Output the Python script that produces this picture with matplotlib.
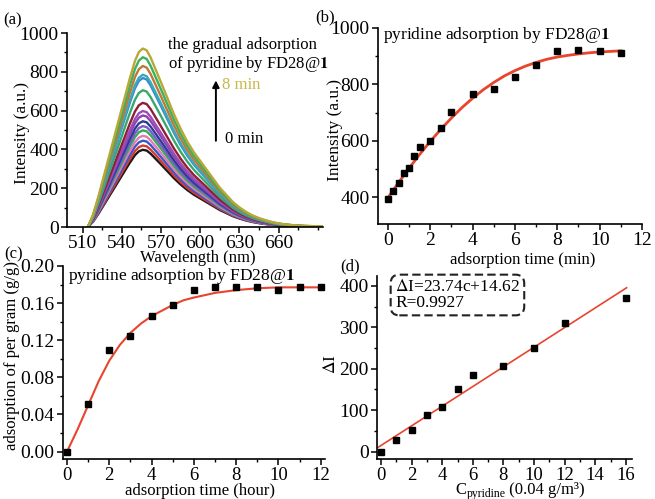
import matplotlib
matplotlib.use('Agg')
import matplotlib.pyplot as plt
from matplotlib.ticker import MultipleLocator

plt.rcParams['font.family'] = ['Liberation Serif', 'DejaVu Serif']
plt.rcParams['mathtext.fontset'] = 'stix'

# ---- data ----
# (a) emission spectra, normalised shape read off the curves + peak heights
wavelength = [514, 518, 522, 526, 530, 534, 538, 542, 546, 550, 553, 556, 559, 562,
              566, 570, 575, 580, 585, 590, 595, 600, 605, 610, 615, 620, 625, 630,
              635, 640, 645, 650, 655, 660, 665, 670, 675, 680, 685, 690, 694]
spec_shape = [0, 0.07, 0.17, 0.28, 0.39, 0.50, 0.61, 0.72, 0.83, 0.93, 0.98, 1.0, 0.99, 0.95,
              0.88, 0.81, 0.72, 0.63, 0.55, 0.48, 0.42, 0.37, 0.32, 0.27, 0.22, 0.18, 0.14, 0.11,
              0.085, 0.065, 0.05, 0.038, 0.028, 0.02, 0.015, 0.011, 0.008, 0.006, 0.005, 0.004, 0.003]
peak_heights = [398, 420, 445, 470, 498, 520, 545, 575, 598, 640, 705, 768, 785, 830, 875, 920]
spec_colors = ['#1a1a1a', '#d63a2e', '#3a55c8', '#e27ab8', '#3aa85a', '#7a5cc8', '#2c3c96',
               '#8a44b0', '#a04cb8', '#8c2038', '#3aa86a', '#3a8ad0', '#3aaab8', '#c07838',
               '#3cb060', '#b8a838']

# (b) intensity vs time (min)
t_min = [0, 0.25, 0.5, 0.75, 1, 1.25, 1.5, 2, 2.5, 3, 4, 5, 6, 7, 8, 9, 10, 11]
intensity = [392, 423, 450, 485, 503, 545, 579, 600, 644, 703, 766, 784, 828, 868, 917, 923, 919, 913]
fit_b_x = [0, 0.5, 1, 1.5, 2, 2.5, 3, 3.5, 4, 4.5, 5, 5.5, 6, 6.5, 7, 7.5, 8, 8.5, 9, 9.5, 10, 10.5, 11]
fit_b_y = [398, 452, 503, 552, 598, 641, 681, 718, 751, 781, 807, 830, 849, 865, 878, 889,
           897, 903, 908, 912, 915, 917, 919]

# (c) adsorption per gram vs time (hour)
t_hour = [0, 1, 2, 3, 4, 5, 6, 7, 8, 9, 10, 11, 12]
per_gram = [0.0, 0.051, 0.109, 0.125, 0.146, 0.158, 0.174, 0.177, 0.177, 0.177, 0.174, 0.177, 0.177]
fit_c_x = [0, 0.5, 1, 1.5, 2, 2.5, 3, 3.5, 4, 4.5, 5, 5.5, 6, 7, 8, 9, 10, 11, 12]
fit_c_y = [0, 0.024, 0.050, 0.076, 0.098, 0.115, 0.128, 0.138, 0.146, 0.152, 0.158, 0.163,
           0.166, 0.171, 0.174, 0.176, 0.177, 0.177, 0.177]

# (d) delta I vs concentration
conc = [0, 1, 2, 3, 4, 5, 6, 8, 10, 12, 16]
delta_i = [0, 27, 53, 88, 108, 150, 184, 206, 250, 311, 372]
slope, intercept = 23.74, 14.62
fit_d_x = [-0.2, 16.05]

W, H = 655, 499
fig = plt.figure(figsize=(W / 100, H / 100), dpi=100)


def px_axes(l, t, r, b):
    return fig.add_axes([l / W, 1 - b / H, (r - l) / W, (b - t) / H])


def style(ax):
    for s in ['top', 'right']:
        ax.spines[s].set_visible(False)
    for s in ['left', 'bottom']:
        ax.spines[s].set_linewidth(1.2)
    ax.tick_params(which='major', direction='out', length=4.5, width=1.1, labelsize=14, pad=1.5)
    ax.tick_params(which='minor', direction='out', length=2.5, width=1.0)


def ftext(x, y, s, **kw):
    return fig.text(x / W, 1 - y / H, s, **kw)


red = '#e8442e'

# ---- (a) ----
ax = px_axes(67, 33, 323, 227)
for pk, c in zip(peak_heights, spec_colors):
    ax.plot(wavelength, [pk * v for v in spec_shape], color=c, lw=1.7)
ax.set_xlim(498, 694)
ax.set_ylim(0, 1000)
ax.xaxis.set_minor_locator(MultipleLocator(15))
ax.yaxis.set_major_locator(MultipleLocator(200))
ax.yaxis.set_minor_locator(MultipleLocator(100))
ax.set_xticks(range(510, 661, 30))
style(ax)
ax.tick_params(axis='x', which='major', pad=1)
ax.annotate('', xy=(612, 770), xytext=(612, 430),
            arrowprops=dict(arrowstyle='-|>', color='black', lw=1.4, mutation_scale=10))
ax.text(617, 730, '8 min', color='#c8b84a', fontsize=12, va='center')
ax.text(619, 455, '0 min', color='black', fontsize=12, va='center')
ftext(168, 45, 'the gradual adsorption', fontsize=12, va='center')
ftext(168, 64, r'of pyridine by FD28@$\mathbf{1}$', fontsize=12, va='center')
ftext(198, 262, 'Wavelength (nm)', fontsize=12, ha='center', va='baseline')
ftext(22, 133, 'Intensity (a.u.)', fontsize=12.5, ha='center', va='center', rotation=90)
ftext(13, 20, '(a)', fontsize=12, ha='center', va='center')

# ---- (b) ----
ax = px_axes(378, 28, 642, 224)
ax.plot(fit_b_x, fit_b_y, color=red, lw=2.0, zorder=2)
ax.plot(t_min, intensity, 's', color='black', ms=3.8, zorder=3)
ax.set_xlim(-0.47, 12)
ax.set_ylim(305, 1000)
ax.xaxis.set_major_locator(MultipleLocator(2))
ax.xaxis.set_minor_locator(MultipleLocator(1))
ax.yaxis.set_minor_locator(MultipleLocator(100))
ax.set_yticks([400, 600, 800, 1000])
style(ax)
ax.tick_params(axis='x', which='major', pad=1)
ftext(383, 35, r'pyridine adsorption by FD28@$\mathbf{1}$', fontsize=12.5, va='center')
ftext(523, 264, 'adsorption time (min)', fontsize=12, ha='center', va='baseline')
ftext(335, 130, 'Intensity (a.u.)', fontsize=12.5, ha='center', va='center', rotation=90)
ftext(325, 17, '(b)', fontsize=12, ha='center', va='center')

# ---- (c) ----
ax = px_axes(63, 266, 325, 459)
ax.plot(fit_c_x, fit_c_y, color=red, lw=1.5, zorder=2)
ax.plot(t_hour, per_gram, 's', color='black', ms=3.8, zorder=3, clip_on=False)
ax.set_xlim(-0.19, 12.2)
ax.set_ylim(-0.008, 0.20)
ax.xaxis.set_major_locator(MultipleLocator(2))
ax.xaxis.set_minor_locator(MultipleLocator(1))
ax.yaxis.set_minor_locator(MultipleLocator(0.02))
ax.set_yticks([0, 0.04, 0.08, 0.12, 0.16, 0.20])
ax.set_yticklabels(['0.00', '0.04', '0.08', '0.12', '0.16', '0.20'])
style(ax)
ax.tick_params(axis='x', which='major', labelsize=13.5, pad=1)
ftext(68, 276, r'pyridine adsorption by FD28@$\mathbf{1}$', fontsize=12.5, va='center')
ftext(200, 495, 'adsorption time (hour)', fontsize=12, ha='center', va='baseline')
ftext(12, 356, 'adsorption of per gram (g/g)', fontsize=12, ha='center', va='center', rotation=90)
ftext(14, 254, '(c)', fontsize=12, ha='center', va='center')

# ---- (d) ----
ax = px_axes(377, 276, 632, 459)
ax.plot(fit_d_x, [slope * x + intercept for x in fit_d_x], color=red, lw=1.2, zorder=2)
ax.plot(conc, delta_i, 's', color='black', ms=3.8, zorder=3)
ax.set_xlim(-0.26, 16.4)
ax.set_ylim(-18, 424)
ax.xaxis.set_major_locator(MultipleLocator(2))
ax.xaxis.set_minor_locator(MultipleLocator(1))
ax.yaxis.set_minor_locator(MultipleLocator(50))
ax.set_yticks([0, 100, 200, 300, 400])
style(ax)
ax.tick_params(axis='x', which='major', labelsize=13.5, pad=1)
ftext(395, 295, '$\\Delta$I=23.74c+14.62\nR=0.9927', fontsize=12.5, va='center', linespacing=1.0,
      bbox=dict(boxstyle='round,pad=0.25,rounding_size=0.5', fc='white', ec='#222222',
                ls=(0, (4, 2)), lw=1.5))
# x label built from pieces: C, small "pyridine" subscript, then the unit
lab_c = ftext(455, 494, 'C', fontsize=12, ha='left', va='baseline')
lab_sub = ax.annotate('pyridine', xy=(1, 0), xycoords=lab_c, xytext=(0.3, -1.5),
                      textcoords='offset points', fontsize=8.5, ha='left', va='bottom',
                      annotation_clip=False)
ax.annotate(' (0.04 g/m\u00b3)', xy=(1, 0), xycoords=(lab_sub, lab_c), fontsize=12,
            ha='left', va='bottom', annotation_clip=False)
ftext(331, 364, '$\\Delta$I', fontsize=12.5, ha='center', va='center', rotation=90)
ftext(350, 266, '(d)', fontsize=12, ha='center', va='center')

fig.savefig('out.png', dpi=100)
